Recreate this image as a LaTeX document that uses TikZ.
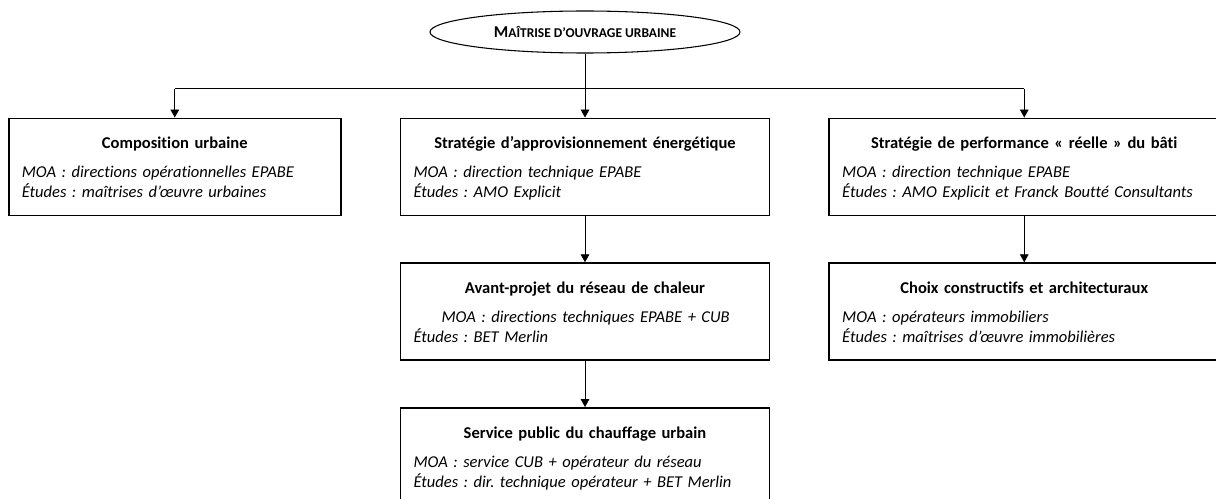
\documentclass[tikz,border=0pt]{standalone}
\usepackage{fontspec}
\setmainfont{Carlito}[Ligatures=CommonOff]
\frenchspacing
\usetikzlibrary{shapes.geometric, arrows.meta, positioning}

\begin{document}
\begin{tikzpicture}[
  x=0.75pt, y=0.75pt,
  font=\fontsize{12.4}{15}\selectfont,
  moa/.style={draw, ellipse, line width=0.8pt, minimum width=232.5pt, minimum height=31.5pt, inner sep=0pt},
  lot/.style={draw, line width=1.3pt, align=left, inner xsep=9.75pt, inner ysep=0pt, minimum height=72.75pt},
  line/.style={line width=0.7pt},
  arr/.style={line, -{Triangle[length=6pt, width=6.5pt]}},
]
\useasboundingbox (0,0) rectangle (1216,-499);
\node[moa] (moa) at (585,-32) {\textbf{M{\fontsize{10.1}{12}\selectfont AÎTRISE D’OUVRAGE URBAINE}}};
\coordinate[below=26.25pt of moa] (bus);
\node[lot, text width=257.25pt, below=48pt of moa] (appro) {\rule{0pt}{14pt}\makebox[\linewidth]{\textbf{Stratégie d’approvisionnement énergétique}}\\[6.75pt]
\textit{MOA~: direction technique EPABE}\\
\textit{Études~: AMO Explicit}\strut};
\node[lot, text width=229.5pt, left=43.5pt of appro] (compo) {\rule{0pt}{14pt}\makebox[\linewidth]{\textbf{Composition urbaine}}\\[6.75pt]
\textit{MOA~: directions opérationnelles EPABE}\\
\textit{Études~: maîtrises d’œuvre urbaines}\strut};
\node[lot, text width=273pt, right=43.5pt of appro] (perf) {\rule{0pt}{14pt}\makebox[\linewidth]{\textbf{Stratégie de performance «~réelle~» du bâti}}\\[6.75pt]
\textit{MOA~: direction technique EPABE}\\
\textit{Études~: AMO Explicit et Franck Boutté Consultants}\strut};
\node[lot, text width=273pt, below=34.5pt of perf] (choix) {\rule{0pt}{14pt}\makebox[\linewidth]{\textbf{Choix constructifs et architecturaux}}\\[6.75pt]
\textit{MOA~: opérateurs immobiliers}\\
\textit{Études~: maîtrises d’œuvre immobilières}\strut};
\node[lot, text width=257.25pt, below=34.5pt of appro] (reseau) {\rule{0pt}{14pt}\makebox[\linewidth]{\textbf{Avant-projet du réseau de chaleur}}\\[6.75pt]
\hspace*{21pt}\textit{MOA~: directions techniques EPABE + CUB}\\
\textit{Études~: BET Merlin}\strut};
\node[lot, text width=257.25pt, below=34.5pt of reseau] (service) {\rule{0pt}{14pt}\makebox[\linewidth]{\textbf{Service public du chauffage urbain}}\\[6.75pt]
\textit{MOA~: service CUB + opérateur du réseau}\\
\textit{Études~: dir. technique opérateur + BET Merlin}\strut};
\draw[line] (moa.south) -- (bus);
\draw[line] (compo.north |- bus) -- (perf.north |- bus);
\draw[arr] (compo.north |- bus) -- (compo.north);
\draw[arr] (bus) -- (appro.north);
\draw[arr] (perf.north |- bus) -- (perf.north);
\draw[arr] (appro.south) -- (reseau.north);
\draw[arr] (reseau.south) -- (service.north);
\draw[arr] (perf.south) -- (choix.north);
\end{tikzpicture}
\end{document}
